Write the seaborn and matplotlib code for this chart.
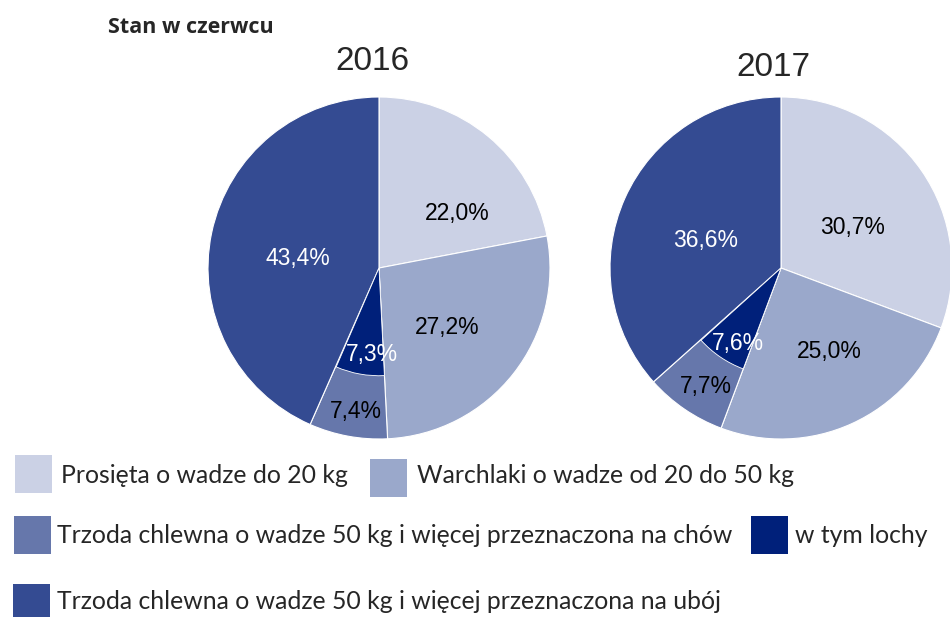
import numpy as np
import matplotlib
matplotlib.use("Agg")
import matplotlib.pyplot as plt
from matplotlib.patches import Rectangle
import seaborn as sns

# ---------------- data ----------------
years = ["2016", "2017"]
categories = [
    "Prosięta o wadze do 20 kg",
    "Warchlaki o wadze od 20 do 50 kg",
    "Trzoda chlewna o wadze 50 kg i więcej przeznaczona na chów",
    "w tym lochy",
    "Trzoda chlewna o wadze 50 kg i więcej przeznaczona na ubój",
]
prosieta = [22.0, 30.7]
warchlaki = [27.2, 25.0]
chow = [7.4, 7.7]
lochy = [7.3, 7.6]
uboj = [43.4, 36.6]

title = "Stan w czerwcu"

# ---------------- style ----------------
sns.set_theme(style="white")
plt.rcParams["font.family"] = ["Liberation Sans", "DejaVu Sans"]

colors = {
    "prosieta": "#CBD1E5",
    "warchlaki": "#9AA8CB",
    "chow": "#6677AB",
    "lochy": "#00207A",
    "uboj": "#344B92",
}

W, H = 950, 617
fig = plt.figure(figsize=(W / 100, H / 100), dpi=100)
fig.patch.set_facecolor("white")

centers = [(379, 268), (781, 268)]
R = 171
lochy_radius = 0.63

# label placement (radial distance, angular nudge in degrees) per wedge:
# order prosieta, warchlaki, chow, uboj, lochy
label_dist = [[0.57, 0.52, 0.83, 0.48, 0.49],
              [0.49, 0.55, 0.80, 0.475, 0.49]]
label_nudge = [[13.8, 1.3, -1.0, -2.8, -5.6],
               [2.9, -6.7, -1.3, -1.7, -3.6]]

def fmt(v):
    return f"{v:.1f}%".replace(".", ",")

for i, yr in enumerate(years):
    cx, cy = centers[i]
    ax = fig.add_axes([(cx - R) / W, (H - cy - R) / H, 2 * R / W, 2 * R / H])
    outer = [prosieta[i], warchlaki[i], chow[i], uboj[i]]
    outer_cols = [colors["prosieta"], colors["warchlaki"], colors["chow"], colors["uboj"]]
    ax.pie(outer, colors=outer_cols, startangle=90, counterclock=False,
           radius=1.0, wedgeprops=dict(edgecolor="white", linewidth=0.8))
    inner = [prosieta[i], warchlaki[i], lochy[i], chow[i] - lochy[i], uboj[i]]
    inner_cols = ["none", "none", colors["lochy"], "none", "none"]
    wedges, _ = ax.pie(inner, colors=inner_cols, startangle=90, counterclock=False,
                       radius=lochy_radius, wedgeprops=dict(linewidth=0))
    wedges[2].set_edgecolor("white")
    wedges[2].set_linewidth(0.6)
    ax.set_xlim(-1, 1)
    ax.set_ylim(-1, 1)
    ax.set_aspect("equal")
    ax.axis("off")

    # labels
    vals = [prosieta[i], warchlaki[i], chow[i], uboj[i]]
    total = sum(vals)
    cum = np.cumsum([0] + vals)
    tcols = ["black", "black", "black", "white"]
    texts = [fmt(v) for v in vals] + [fmt(lochy[i])]
    mids = [(cum[k] + vals[k] / 2) / total * 360.0 for k in range(4)]
    mids.append(mids[2])
    tcols.append("white")
    for k in range(5):
        a = np.deg2rad(90 - (mids[k] + label_nudge[i][k]))
        d = label_dist[i][k]
        ax.text(d * np.cos(a), d * np.sin(a) - 0.02, texts[k],
                ha="center", va="center", fontsize=16.5, color=tcols[k])

# year titles
fig.text(372 / W, 1 - 61 / H, years[0], ha="center", va="center", fontsize=24)
fig.text(773 / W, 1 - 67 / H, years[1], ha="center", va="center", fontsize=24)

# chart title
fig.text(108 / W, 1 - 33 / H, title, ha="left", va="baseline", fontsize=15.5,
         fontweight="bold", family=["Open Sans", "DejaVu Sans"])

# legend (manual layout): patch x, patch y, text x, text baseline
leg_items = [
    (categories[0], colors["prosieta"], 15, 455, 61, 483),
    (categories[1], colors["warchlaki"], 370, 459, 417, 483),
    (categories[2], colors["chow"], 14, 516, 57, 543),
    (categories[3], colors["lochy"], 751, 516, 795, 543),
    (categories[4], colors["uboj"], 13, 584, 57, 609),
]
for label, col, px, py, tx, ty in leg_items:
    fig.add_artist(Rectangle((px / W, 1 - (py + 38) / H), 37 / W, 38 / H,
                             transform=fig.transFigure, facecolor=col, edgecolor="none"))
    fig.text(tx / W, 1 - ty / H, label, ha="left", va="baseline", fontsize=17.8,
             family=["Lato", "DejaVu Sans"])

fig.savefig("out.png", dpi=100, facecolor="white")
